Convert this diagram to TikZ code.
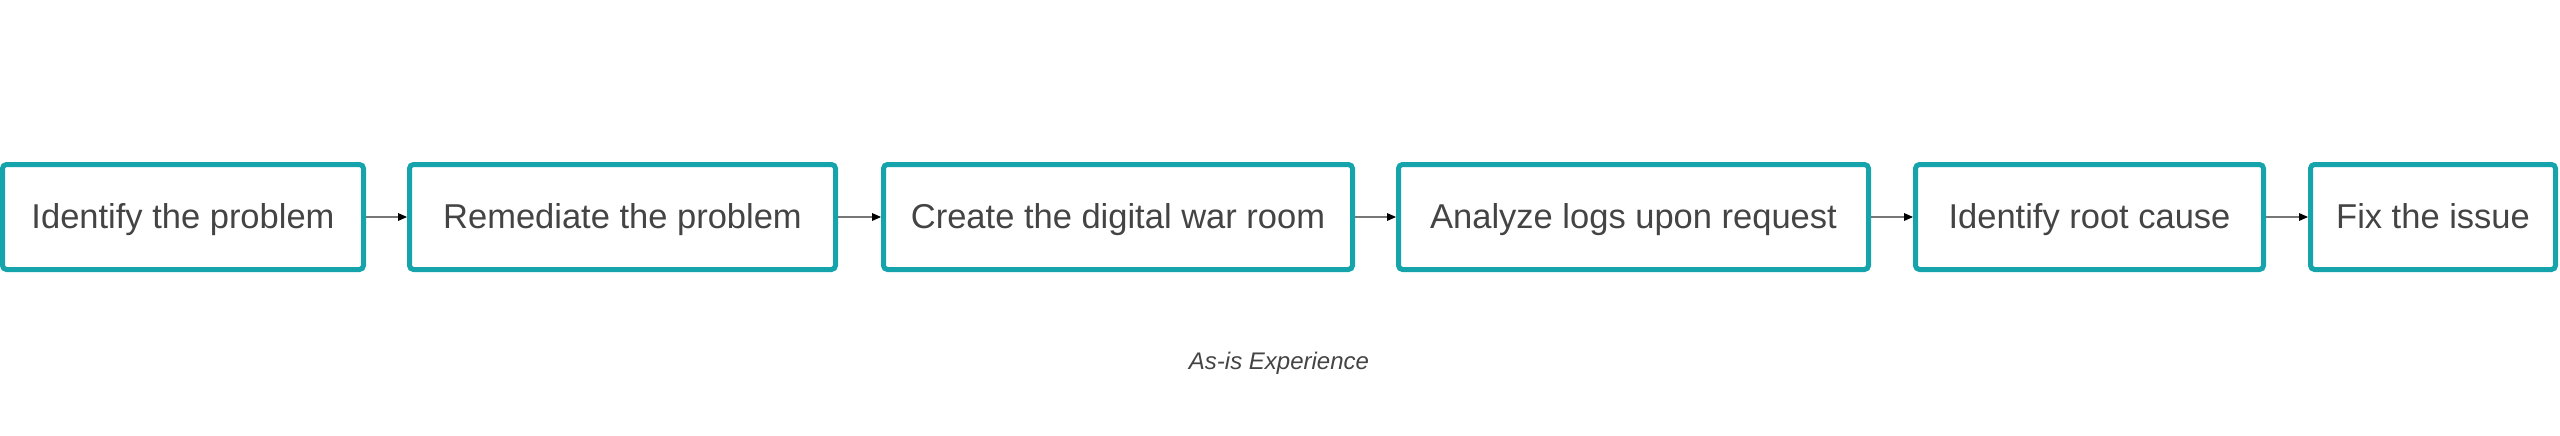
\documentclass[tikz,border=0pt]{standalone}
\usepackage{fontspec}
\setmainfont{Liberation Sans}
\usetikzlibrary{arrows.meta}
\definecolor{teal1}{RGB}{22,164,172}
\definecolor{txt}{HTML}{444444}
\definecolor{arr}{HTML}{777777}
\tikzset{
  stepbox/.style={draw=teal1, line width=5pt, rounded corners=4pt, fill=white,
    minimum height=105pt, inner sep=0pt, text=txt, text height=23pt, text depth=0pt,
    font=\fontsize{34.5pt}{40pt}\selectfont},
  flow/.style={draw=arr, line width=1.6pt, -{Triangle[length=9pt,width=8pt,color=black,fill=black,line width=0pt]}}
}
\begin{document}
\begin{tikzpicture}[x=1pt,y=-1pt]
\useasboundingbox (0,0) rectangle (2560,436);
\node[stepbox, minimum width=361pt] (n1) at (183,217) {Identify the problem};
\node[stepbox, minimum width=426pt] (n2) at (622.5,217) {Remediate the problem};
\node[stepbox, minimum width=469pt] (n3) at (1118,217) {Create the digital war room};
\node[stepbox, minimum width=470pt] (n4) at (1633.5,217) {Analyze logs upon request};
\node[stepbox, minimum width=348pt] (n5) at (2089.5,217) {Identify root cause};
\node[stepbox, minimum width=245pt] (n6) at (2433,217) {Fix the issue};
\draw[flow] (n1) -- (n2);
\draw[flow] (n2) -- (n3);
\draw[flow] (n3) -- (n4);
\draw[flow] (n4) -- (n5);
\draw[flow] (n5) -- (n6);
\node[text=txt, font=\fontsize{24pt}{28pt}\selectfont\itshape] (cap) at (1279,363) {As-is Experience};
\end{tikzpicture}
\end{document}
